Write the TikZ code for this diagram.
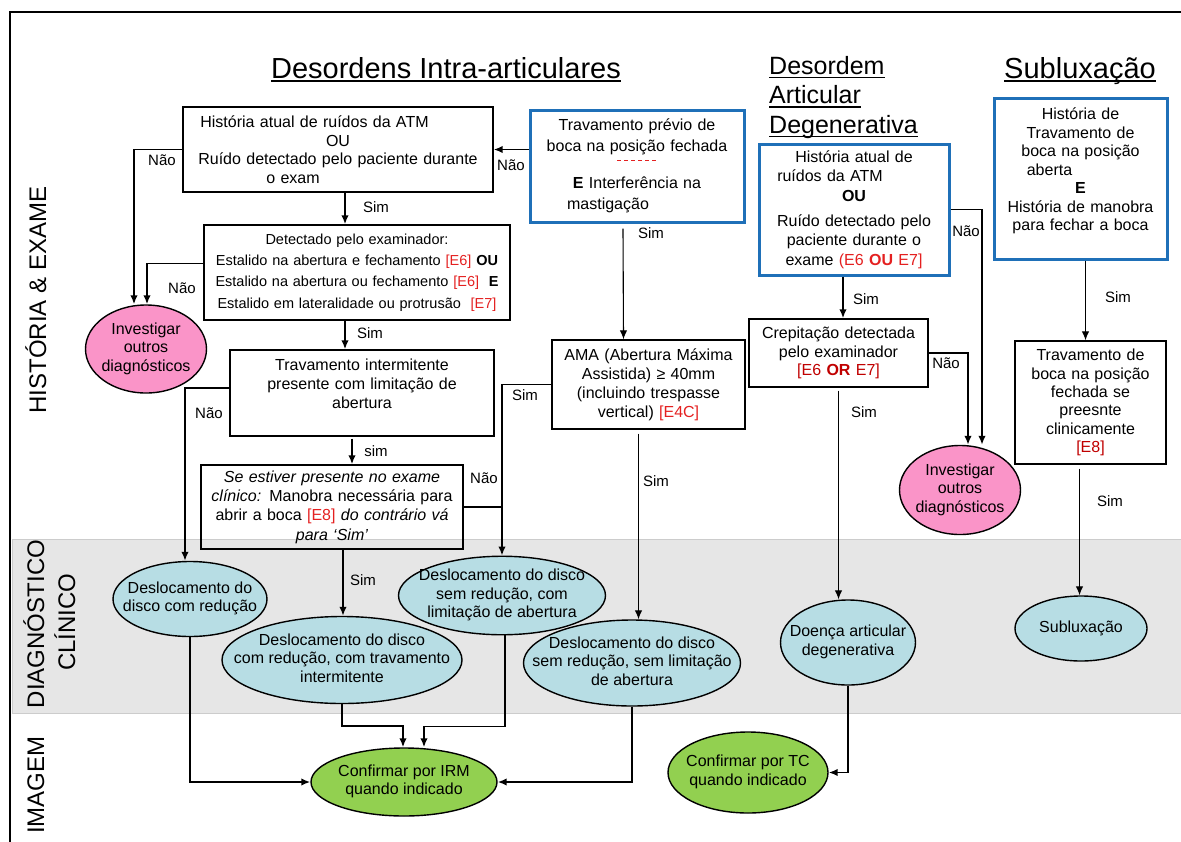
\documentclass[tikz,border=0pt]{standalone}
\usepackage{fontspec}
\setmainfont{Liberation Sans}
\usetikzlibrary{shapes.geometric,arrows.meta}
\tikzset{>={Latex[length=9pt,width=7.5pt]}}
\definecolor{boxblue}{RGB}{31,112,184}
\definecolor{refred}{RGB}{228,32,32}
\definecolor{darkred}{RGB}{192,0,0}
\definecolor{pinkfill}{RGB}{250,148,200}
\definecolor{diagfill}{RGB}{183,221,228}
\definecolor{imgfill}{RGB}{146,208,80}
\definecolor{band}{RGB}{230,230,230}
\newcommand{\etx}[1]{\makebox[0pt]{\begin{tabular}{@{}c@{}}#1\end{tabular}}}
\newcommand{\undl}[1]{{\setbox0\hbox{#1}\rlap{\rule[-4pt]{\wd0}{1.7pt}}\box0}}
\newcommand{\ecode}[1]{\textcolor{refred}{#1}}
\newcommand{\toleft}[2]{\mbox{#2\hspace{#1}}}

\begin{document}
\begin{tikzpicture}[x=1pt, y=-1pt,
    every node/.style={font=\fontsize{16}{18.5}\selectfont},
    box/.style={draw, line width=1.4pt, align=center, inner sep=0pt},
    bluebox/.style={box, draw=boxblue, line width=3pt},
    ell/.style={ellipse, draw, line width=1.4pt, inner sep=0pt},
    lab/.style={font=\fontsize{15}{17}\selectfont, inner sep=0pt},
    side/.style={rotate=90, anchor=base, font=\fontsize{24}{28}\selectfont},
    conn/.style={->, line width=1.8pt},
    lconn/.style={->, line width=1.1pt}]
    \useasboundingbox (0,0) rectangle (1181,841);
    % bands and frame
    \draw[fill=band, draw=black!20, line width=0.8pt] (12,539) rectangle (1190,713);
    \draw[line width=2pt] (10,845) -- (10,12) -- (1190,12);
    \node[side] (hist) at (46,300) {HISTÓRIA \& EXAME};
    \node[side] (diag) at (44,624) {DIAGNÓSTICO};
    \node[side] (clin) at (75,622) {CLÍNICO};
    \node[side] (imag) at (44,785) {IMAGEM};
    % titles
    \node[font=\fontsize{29}{33}\selectfont, anchor=base, inner sep=0pt] (t1) at (446,78) {\undl{Desordens Intra-articulares}};
    \node[font=\fontsize{25}{29.5}\selectfont, align=left, anchor=north west, inner sep=0pt] (t2) at (769,56) {\undl{Desordem}\\\undl{Articular}\\\undl{Degenerativa}};
    \node[font=\fontsize{29}{33}\selectfont, anchor=base, inner sep=0pt] (t3) at (1080,78) {\undl{Subluxação}};
    % history and exam
    \node[box, minimum width=310, minimum height=85, text width=300] (b1) at (338,149.5) {\toleft{47pt}{História atual de ruídos da ATM}\\OU\\Ruído detectado pelo paciente durante\\\toleft{90pt}{o exam}};
    \node[bluebox, minimum width=214, minimum height=112, text width=204, font=\fontsize{16}{21}\selectfont] (b2) at (637,166) {Travamento prévio de\\boca na posição fechada\\[16pt]\textbf{E} Interferência na\\\toleft{58pt}{mastigação}};
    \node[box, minimum width=306, minimum height=95, text width=298, font=\fontsize{14.5}{21.3}\selectfont] (b3) at (357,272.5) {Detectado pelo examinador:\\Estalido na abertura e fechamento \ecode{[E6]} \textbf{OU}\\Estalido na abertura ou fechamento \ecode{[E6]}\ \ \textbf{E}\\Estalido em lateralidade ou protrusão\ \ \ecode{[E7]}};
    \node[box, minimum width=264, minimum height=86, text width=254, font=\fontsize{16}{19}\selectfont] (b4) at (362,393) {Travamento intermitente\\presente com limitação de\\abertura\\\mbox{}};
    \node[box, minimum width=262, minimum height=84, text width=254, font=\fontsize{16}{19.3}\selectfont] (b5) at (332,507) {\textit{Se estiver presente no exame}\\\textit{clínico:} Manobra necessária para\\abrir a boca \ecode{[E8]} \textit{do contrário vá}\\\textit{para ‘Sim’}};
    \node[box, minimum width=193, minimum height=89, text width=187, font=\fontsize{16}{19}\selectfont] (b6) at (648.5,384.5) {AMA (Abertura Máxima\\Assistida) ≥ 40mm\\(incluindo trespasse\\vertical) \ecode{[E4C]}};
    \node[bluebox, minimum width=190, minimum height=131, text width=180, font=\fontsize{16}{19.5}\selectfont] (b7) at (854,209.5) {História atual de\\\toleft{48pt}{ruídos da ATM}\\\textbf{OU}\\[5.5pt]Ruído detectado pelo\\paciente durante o\\exame \ecode{(E6 \textbf{OU} E7]}};
    \node[box, minimum width=179, minimum height=68, text width=171] (b8) at (838.5,353) {Crepitação detectada\\pelo examinador\\\textcolor{darkred}{[E6 \textbf{OR} E7]}};
    \node[bluebox, minimum width=173, minimum height=161, text width=163] (b9) at (1080.5,178.5) {História de\\Travamento de\\boca na posição\\\toleft{62pt}{aberta}\\\textbf{E}\\História de manobra\\para fechar a boca\\\mbox{}};
    \node[box, minimum width=151, minimum height=123, text width=143, font=\fontsize{16}{18.4}\selectfont] (b10) at (1090.5,402.5) {Travamento de\\boca na posição\\fechada se\\preesnte\\clinicamente\\\textcolor{darkred}{[E8]}};
    \draw[refred, line width=1.3pt, dash pattern=on 4pt off 3pt] ([xshift=-20,yshift=5.5]b2.center) -- ([xshift=20,yshift=5.5]b2.center);
    \node[ell, fill=pinkfill, minimum width=121, minimum height=88] (e1) at (146,349) {\etx{Investigar\\outros\\diagnósticos}};
    \node[ell, fill=pinkfill, minimum width=121, minimum height=89] (e8) at (960,490) {\etx{Investigar\\outros\\diagnósticos}};
    % clinical diagnosis
    \node[ell, fill=diagfill, minimum width=154, minimum height=75] (e2) at (190,599) {\etx{Deslocamento do\\disco com redução}};
    \node[ell, fill=diagfill, minimum width=240, minimum height=87] (e3) at (342,660) {\etx{Deslocamento do disco\\com redução, com travamento\\intermitente}};
    \node[ell, fill=diagfill, minimum width=207, minimum height=77] (e4) at (502,595.5) {\etx{Deslocamento do disco\\sem redução, com\\limitação de abertura}};
    \node[ell, fill=diagfill, minimum width=217, minimum height=86] (e5) at (632,663) {\etx{Deslocamento do disco\\sem redução, sem limitação\\de abertura}};
    \node[ell, fill=diagfill, minimum width=135, minimum height=85] (e6) at (848,642.5) {\etx{Doença articular\\degenerativa}};
    \node[ell, fill=diagfill, minimum width=132, minimum height=65] (e7) at (1081,628.5) {\etx{Subluxação}};
    % imaging
    \node[ell, fill=imgfill, minimum width=186, minimum height=68] (g1) at (404,782) {\etx{Confirmar por IRM\\quando indicado}};
    \node[ell, fill=imgfill, minimum width=160, minimum height=81] (g2) at (748,772.5) {\etx{Confirmar por TC\\quando indicado}};
    % connectors
    \draw[conn] (b2.west |- b1.east) -- (b1.east);
    \draw[conn] (b1.west) -| ([xshift=-12]e1.north);
    \draw[conn] ([yshift=9]b3.west) -| ([xshift=1]e1.north);
    \draw[conn] ([xshift=7]b1.south) -- ([xshift=7]b1.south |- b3.north);
    \draw[conn] ([xshift=-12]b3.south) -- ([xshift=-12]b3.south |- b4.north);
    \draw[conn] ([xshift=-10,yshift=-2]b4.south) -- ([xshift=-10]b4.south |- b5.north);
    \draw[conn] ([xshift=11]b5.south) -- ([xshift=11]b5.south |- e3.north);
    \draw[conn] ([yshift=5]b4.west) -| ([xshift=-5]e2.north);
    \draw[conn] (b6.west) -| (e4.north);
    \draw[line width=1.8pt] (b5.east) -- (b5.east -| e4.north);
    \draw[lconn] ([xshift=-14,yshift=-5]b2.south) -- ([xshift=-25]b6.north);
    \draw[lconn] ([xshift=-10,yshift=-4]b6.south) -- ([xshift=-10]b6.south |- e5.north);
    \draw[conn] (b7.east) -| ([xshift=22]e8.north);
    \draw[conn] ([xshift=-11]b7.south) -- ([xshift=-11]b7.south |- b8.north);
    \draw[conn] (b8.east) -| ([xshift=8]e8.north);
    \draw[lconn] ([yshift=-3]b8.south) -- (b8.south |- e6.north);
    \draw[lconn] ([xshift=5]b9.south) -- ([xshift=5]b9.south |- b10.north);
    \draw[lconn] ([xshift=-11,yshift=-4]b10.south) -- ([xshift=-11]b10.south |- e7.north);
    \draw[conn] (e2.south) |- (g1.west);
    \draw[conn] (e3.south) -- ++(0,22) -| ([xshift=-1]g1.north);
    \draw[conn] ([xshift=3]e4.south) -- ++(0,91) -| ([xshift=20]g1.north);
    \draw[conn] (e5.south) |- (g1.east);
    \draw[conn] (e6.south) |- (g2.east);
    % labels
    \node[lab] (n1) at (162,160) {Não};
    \node[lab] (n2) at (511,165) {Não};
    \node[lab] (n3) at (182,288) {Não};
    \node[lab] (n4) at (209,413) {Não};
    \node[lab] (n5) at (484,478) {Não};
    \node[lab] (n6) at (966,231) {Não};
    \node[lab] (n7) at (946,363) {Não};
    \node[lab] (s1) at (376,207) {Sim};
    \node[lab] (s2) at (370,333) {Sim};
    \node[lab] (s3) at (376,451) {sim};
    \node[lab] (s4) at (525,395) {Sim};
    \node[lab] (s5) at (651,233) {Sim};
    \node[lab] (s6) at (656,481) {Sim};
    \node[lab] (s7) at (363,580) {Sim};
    \node[lab] (s8) at (866,299) {Sim};
    \node[lab] (s9) at (864,412) {Sim};
    \node[lab] (s10) at (1118,297) {Sim};
    \node[lab] (s11) at (1110,501) {Sim};
\end{tikzpicture}
\end{document}
